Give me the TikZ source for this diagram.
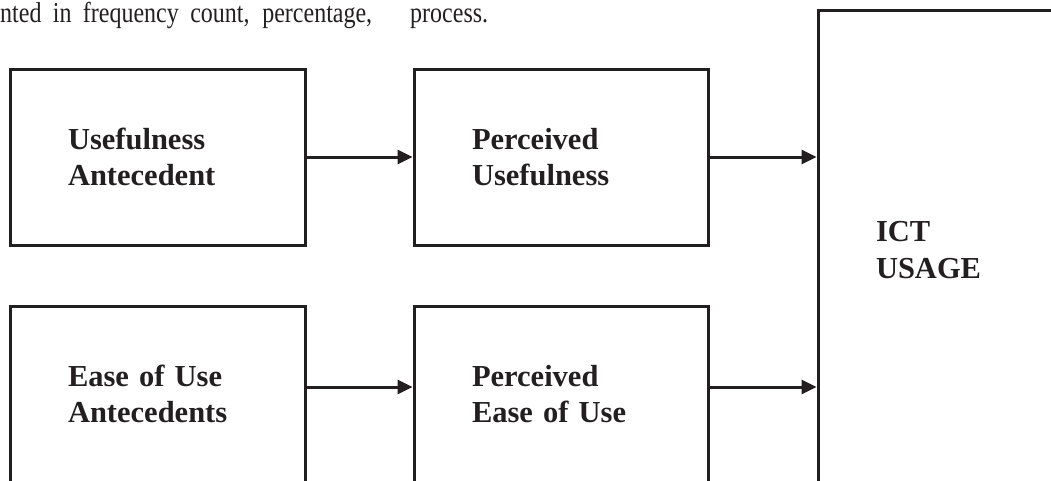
\documentclass[tikz,border=0pt]{standalone}
\usepackage{fontspec}
\setmainfont{Liberation Serif}
\usetikzlibrary{arrows.meta}
\definecolor{ink}{RGB}{35,31,32}

\begin{document}
\begin{tikzpicture}[x=1pt, y=-1pt,
        box/.style={draw=ink, line width=3pt, inner xsep=58pt, inner ysep=0pt,
            align=left, text=ink, minimum height=176pt,
            font=\fontsize{30.5}{36.7}\selectfont\bfseries},
        link/.style={draw=ink, line width=3pt, -{Triangle[length=15pt, width=14pt]}},
        para/.style={anchor=base west, inner sep=0pt, text=ink,
            font=\fontsize{24}{28}\selectfont}]
            \useasboundingbox (0,0) rectangle (1051,480);
            \clip (0,0) rectangle (1051,480);

            %% running text above the figure
            \node[para] (txta) at (0,22) {\scalebox{1}[1.2]{\makebox[372pt][s]{nted in frequency count, percentage,}}};
            \node[para] (txtb) at (410,22) {\scalebox{1}[1.2]{process.}};

            %% antecedents
            \node[box, text width=179pt] (ua) at (157.5,157) {Usefulness\\Antecedent};
            \node[box, text width=179pt] (ea) at (157.5,394) {Ease of Use\\Antecedents};

            %% perceived
            \node[box, text width=178pt] (pu) at (561,157) {Perceived\\Usefulness};
            \node[box, text width=178pt] (pe) at (561,394) {Perceived\\Ease of Use};

            %% usage
            \node[box, text width=136pt, minimum height=480pt] (ict) at (944,250) {ICT\\USAGE};

            % links
            \draw[link] (ua) -- (pu);
            \draw[link] (pu.east) -- (pu.east -| ict.west);
            \draw[link] ([yshift=7pt]ea.east) -- ([yshift=7pt]pe.west);
            \draw[link] ([yshift=7pt]pe.east) -- ([yshift=7pt]pe.east -| ict.west);

        \end{tikzpicture}
\end{document}
